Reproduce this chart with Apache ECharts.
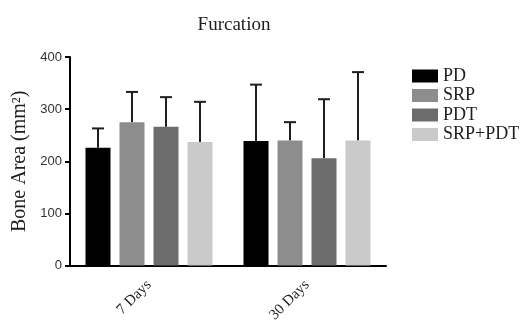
<!DOCTYPE html>
<html>
<head lang="en">
	<meta charset="UTF-8">
	<title>Furcation</title>
	<script type="text/javascript" src="https://cdn.jsdelivr.net/npm/echarts@6/dist/echarts.min.js"></script>
	<style>
		html, body { margin: 0; padding: 0; background: #fff; }
		#chart { width: 521px; height: 325px; }
	</style>
</head>
<body>
<div id="chart"></div>
<script>
var categories = ['7 Days', '30 Days'];
var groups = ['PD', 'SRP', 'PDT', 'SRP+PDT'];
var means = {
	'PD': [226, 239],
	'SRP': [275, 240],
	'PDT': [266, 206],
	'SRP+PDT': [237, 240]
};
// upper end of the error bar
var upper = {
	'PD': [263, 347],
	'SRP': [333, 275],
	'PDT': [323, 319],
	'SRP+PDT': [314, 371]
};
var colors = ['#000000', '#8d8d8d', '#6c6c6c', '#cacaca'];
var yTicks = [0, 100, 200, 300, 400];

var BAR_W = 25, BAR_GAP = 9;

var myChart = echarts.init(document.getElementById('chart'));

var series = [];
for (var i = 0; i < groups.length; i++) {
	series.push({
		name: groups[i],
		type: 'bar',
		barWidth: BAR_W,
		barGap: (BAR_GAP / BAR_W * 100) + '%',
		itemStyle: { color: colors[i] },
		data: means[groups[i]]
	});
}
// error bars (upper only)
for (var j = 0; j < groups.length; j++) {
	(function (idx) {
		var g = groups[idx];
		var errData = [];
		for (var k = 0; k < categories.length; k++) {
			errData.push([k, means[g][k], upper[g][k]]);
		}
		series.push({
			type: 'custom',
			name: g + '_err',
			z: 1,
			silent: true,
			renderItem: function (params, api) {
				var lo = api.coord([api.value(0), api.value(1)]);
				var hi = api.coord([api.value(0), api.value(2)]);
				var off = (idx - 1.5) * (BAR_W + BAR_GAP);
				var x = lo[0] + off;
				var style = { stroke: '#1e1e1e', lineWidth: 2 };
				return {
					type: 'group',
					children: [
						{ type: 'line', shape: { x1: x, y1: lo[1], x2: x, y2: hi[1] }, style: style },
						{ type: 'line', shape: { x1: x - 6, y1: hi[1], x2: x + 6, y2: hi[1] }, style: style }
					]
				};
			},
			data: errData
		});
	})(j);
}

var option = {
	animation: false,
	title: {
		text: 'Furcation',
		left: 229,
		textAlign: 'center',
		top: 11,
		textStyle: { fontFamily: 'Liberation Serif', fontSize: 19, fontWeight: 'normal', color: '#1e1e1e' }
	},
	legend: {
		data: groups,
		orient: 'vertical',
		left: 407,
		top: 62,
		itemWidth: 26,
		itemHeight: 13,
		itemGap: 1.5,
		icon: 'rect',
		textStyle: { fontFamily: 'Liberation Serif', fontSize: 18, lineHeight: 18, color: '#1e1e1e' }
	},
	grid: {
		left: 70,
		top: 57,
		width: 316,
		height: 210
	},
	xAxis: {
		type: 'category',
		data: categories,
		axisLine: { lineStyle: { color: '#000', width: 2 } },
		axisTick: { alignWithLabel: true, length: 5, lineStyle: { color: '#000', width: 2 } },
		axisLabel: {
			rotate: 45,
			margin: 17,
			fontFamily: 'Liberation Serif',
			fontSize: 15,
			color: '#1e1e1e'
		}
	},
	yAxis: {
		type: 'value',
		min: 0,
		max: 400,
		interval: 100,
		name: 'Bone Area (mm\u00b2)',
		nameLocation: 'middle',
		nameGap: 38,
		nameTextStyle: { fontFamily: 'Liberation Serif', fontSize: 20, color: '#1e1e1e' },
		axisLine: { show: true, lineStyle: { color: '#000', width: 2 } },
		axisTick: { show: true, length: 5, lineStyle: { color: '#000', width: 2 } },
		axisLabel: {
			fontFamily: 'Liberation Sans',
			fontSize: 13,
			color: '#333',
			margin: 8,
			formatter: function (v) { return yTicks.indexOf(v) >= 0 ? String(v) : ''; }
		},
		splitLine: { show: false }
	},
	series: series
};
myChart.setOption(option);
</script>
</body>
</html>
